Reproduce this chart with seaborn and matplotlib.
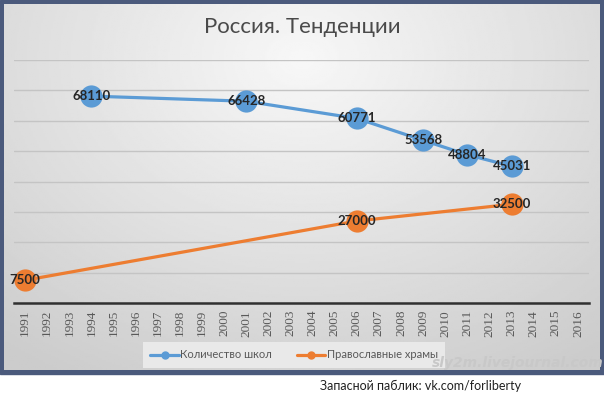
import numpy as np
import pandas as pd
import matplotlib
matplotlib.use("Agg")
import matplotlib.pyplot as plt
import seaborn as sns
from matplotlib.patches import Rectangle
from matplotlib.lines import Line2D

# -------------------------
# Data
# -------------------------
years = list(range(1991, 2017))
school_years = [1994, 2001, 2006, 2009, 2011, 2013]
school_counts = [68110, 66428, 60771, 53568, 48804, 45031]
church_years = [1991, 2006, 2013]
church_counts = [7500, 27000, 32500]
series_names = ["Количество школ", "Православные храмы"]

title = "Россия. Тенденции"
watermark = "sly2m.livejournal.com"
footer = "Запасной паблик: vk.com/forliberty"

schools = pd.DataFrame({"year": school_years, "value": school_counts})
churches = pd.DataFrame({"year": church_years, "value": church_counts})

blue = "#5B9BD5"
orange = "#ED7D31"

sns.set_theme(style="white")
plt.rcParams["font.family"] = ["Lato", "DejaVu Sans"]

W, H = 604, 396
fig = plt.figure(figsize=(W / 100, H / 100), dpi=100, facecolor="white")

# -------------------------
# Frame + gradient background
# -------------------------
fig.patches.append(Rectangle((0, (H - 374) / H), 1, 374 / H,
                             transform=fig.transFigure, color="#4b5a7c", zorder=-5))
bg = fig.add_axes([4 / W, (H - 370) / H, 596 / W, 366 / H], zorder=1)
yy, xx = np.mgrid[0:1:200j, 0:1:300j]
r = np.sqrt(((xx - 0.5) / 0.8) ** 2 + ((yy - 0.15) / 1.0) ** 2)
grad = 0.97 - 0.17 * np.clip(r, 0, 1)
bg.imshow(grad, cmap="gray", vmin=0, vmax=1, aspect="auto",
          extent=[0, 1, 1, 0])
bg.set_axis_off()

# -------------------------
# Main chart
# -------------------------
ax = fig.add_axes([14 / W, (H - 303) / H, 575 / W, 243 / H], zorder=2)
ax.patch.set_alpha(0)

sns.lineplot(data=schools, x="year", y="value", ax=ax, color=blue,
             linewidth=2.3, marker="o", markersize=16, markeredgewidth=0,
             zorder=3)
sns.lineplot(data=churches, x="year", y="value", ax=ax, color=orange,
             linewidth=2.3, marker="o", markersize=16, markeredgewidth=0,
             zorder=3)

for df in (schools, churches):
    for x, v in zip(df["year"], df["value"]):
        ax.text(x, v, str(v), ha="center", va="center", fontsize=9.5,
                fontweight="bold", color="#262626", zorder=4)

ax.set_xlim(1990.5, 2016.5)
ax.set_ylim(0, 80000)
ax.set_yticks(range(0, 80001, 10000))
ax.set_yticklabels([])
ax.tick_params(axis="y", length=0)
ax.grid(axis="y", color="#c4c4c4", linewidth=1)
ax.set_xticks(years)
ax.set_xticklabels([str(y) for y in years], rotation=90, fontsize=9.5,
                   color="#595959", family=["Liberation Serif", "DejaVu Serif"])
ax.tick_params(axis="x", length=0, pad=5)
ax.set_xlabel("")
ax.set_ylabel("")
for s in ["top", "right", "left"]:
    ax.spines[s].set_visible(False)
ax.spines["bottom"].set_color("#303030")
ax.spines["bottom"].set_linewidth(1.8)

# -------------------------
# Legend
# -------------------------
handles = [Line2D([], [], color=blue, linewidth=2.3, marker="o", markersize=5),
           Line2D([], [], color=orange, linewidth=2.3, marker="o", markersize=5)]
leg = fig.legend(handles, series_names, loc="center", ncol=2,
                 bbox_to_anchor=(294 / W, (H - 355) / H), frameon=True,
                 fontsize=8, handlelength=2.6, handletextpad=0.1,
                 columnspacing=2.2,
                 facecolor="#e9e9e9", edgecolor="none", framealpha=1,
                 fancybox=False, borderpad=0.7)
leg.set_zorder(3)
for t in leg.get_texts():
    t.set_color("#595959")

fig.text(0.5, (H - 27) / H, title, ha="center", va="center", fontsize=16,
         color="#4a4a4a", zorder=3)
fig.text(604 / W, (H - 363) / H, watermark, ha="right", va="center",
         fontsize=10, fontweight="bold", style="italic", color="#c8c8c8",
         family=["DejaVu Sans"], zorder=5)
fig.text(421 / W, (H - 386) / H, footer, ha="center", va="center",
         fontsize=9, color="#222222", zorder=3)

fig.savefig("out.png", dpi=100, facecolor="white")
